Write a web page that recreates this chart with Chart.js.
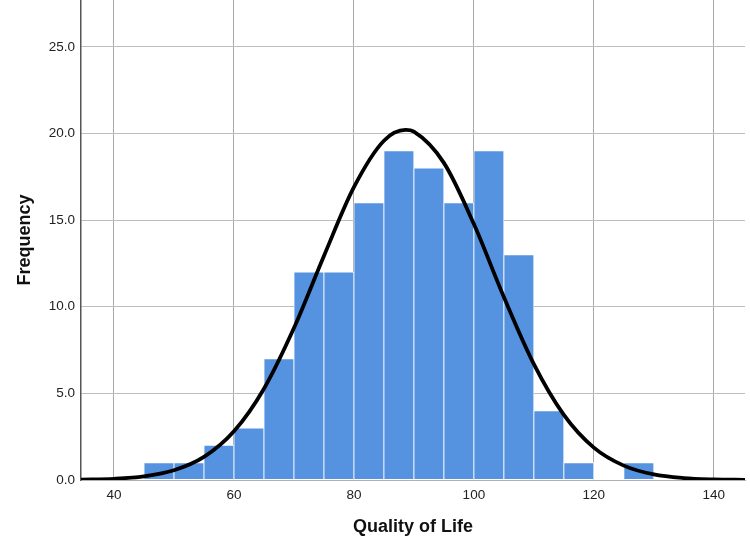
<!DOCTYPE html>
<html>
<head>
<meta charset="utf-8">
<script src="https://cdn.jsdelivr.net/npm/chart.js@4/dist/chart.umd.min.js"></script>
<style>
  html, body { margin: 0; padding: 0; background: #ffffff; }
  #wrap { width: 750px; height: 553px; }
</style>
</head>
<body>
<div id="wrap"><canvas id="c" width="750" height="553"></canvas></div>
<script>
// Histogram bins (centers of 5-unit bins) and frequencies
const binCenters = [47.5, 52.5, 57.5, 62.5, 67.5, 72.5, 77.5, 82.5, 87.5, 92.5, 97.5, 102.5, 107.5, 112.5, 117.5, 122.5, 127.5];
const frequencies = [1, 1, 2, 3, 7, 12, 12, 16, 19, 18, 16, 19, 13, 4, 1, 0, 1];

// Normal curve points
const curveX = [34.5, 40, 45, 50, 55, 60, 65, 70, 75, 80, 85, 88.6, 90, 95, 100, 105, 110, 115, 120, 125, 130, 135, 140, 145.2];
const curveY = [0.02, 0.07, 0.21, 0.56, 1.33, 2.81, 5.27, 8.77, 12.93, 16.9, 19.58, 20.2, 20.1, 18.3, 14.77, 10.56, 6.69, 3.76, 1.87, 0.83, 0.32, 0.11, 0.035, 0.009];

// Axis tick settings
const xTickStep = 20;
const yTickStep = 5;

const barData = binCenters.map((x, i) => ({ x: x, y: frequencies[i] }));
const lineData = curveX.map((x, i) => ({ x: x, y: curveY[i] }));

new Chart(document.getElementById('c'), {
  type: 'bar',
  data: {
    datasets: [
      {
        type: 'line',
        data: lineData,
        borderColor: '#000000',
        borderWidth: 3.8,
        pointRadius: 0,
        fill: false,
        cubicInterpolationMode: 'monotone',
        order: 0
      },
      {
        type: 'bar',
        data: barData,
        backgroundColor: '#5593e1',
        borderColor: '#ffffff',
        borderWidth: 0.8,
        borderSkipped: false,
        barPercentage: 1,
        categoryPercentage: 1,
        order: 1
      }
    ]
  },
  options: {
    responsive: false,
    animation: false,
    layout: { padding: { left: 0, right: 5, top: 0, bottom: 0 } },
    plugins: {
      legend: { display: false },
      tooltip: { enabled: false }
    },
    scales: {
      x: {
        type: 'linear',
        min: 34.5,
        max: 145.2,
        offset: false,
        grid: { color: '#a9a9a9', lineWidth: 1, drawTicks: false, offset: false },
        border: { color: '#b0b0b0', width: 1 },
        ticks: {
          stepSize: xTickStep,
          includeBounds: false,
          padding: 7,
          color: '#222222',
          font: { family: 'Arial, "Liberation Sans", sans-serif', size: 13.5 },
          maxRotation: 0
        },
        title: {
          display: true,
          text: 'Quality of Life',
          color: '#111111',
          font: { family: 'Arial, "Liberation Sans", sans-serif', size: 18, weight: 'bold' },
          padding: { top: 4, bottom: 15 }
        },
        afterFit: function (s) { s.height = 73; }
      },
      y: {
        type: 'linear',
        min: 0,
        max: 27.7,
        grid: { color: '#bdbdbd', lineWidth: 1, drawTicks: false },
        border: { color: '#555555', width: 1.5 },
        ticks: {
          stepSize: yTickStep,
          includeBounds: false,
          padding: 6,
          color: '#222222',
          font: { family: 'Arial, "Liberation Sans", sans-serif', size: 13.5 },
          callback: function (v) { return Number(v).toFixed(1); }
        },
        title: {
          display: true,
          text: 'Frequency',
          color: '#111111',
          font: { family: 'Arial, "Liberation Sans", sans-serif', size: 18, weight: 'bold' },
          padding: { top: 14, bottom: 0 }
        },
        afterFit: function (s) { s.width = 81; s.paddingTop = 0; s.paddingBottom = 0; }
      }
    }
  }
});
</script>
</body>
</html>
